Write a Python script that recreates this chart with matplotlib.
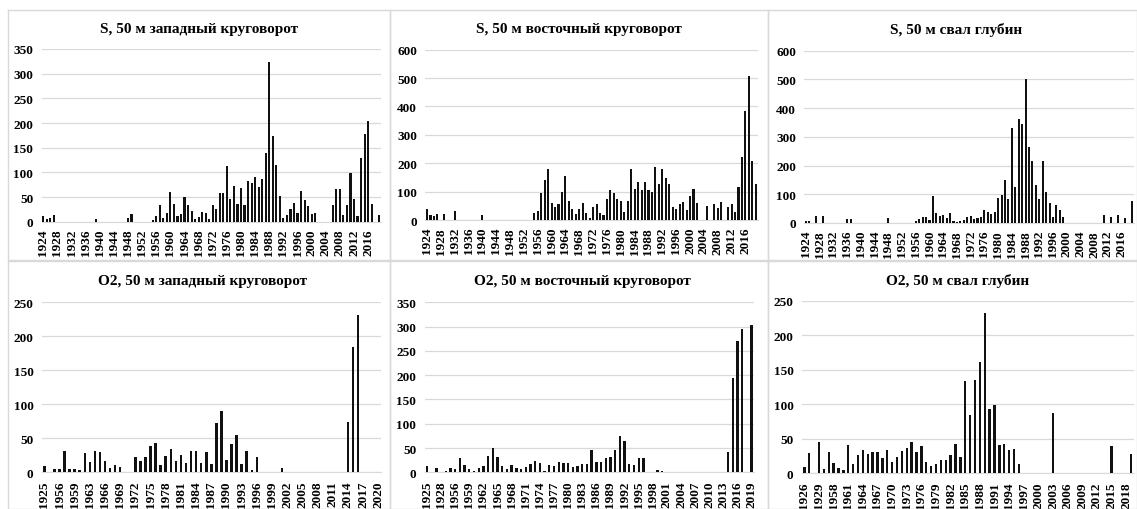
import numpy as np
import matplotlib
matplotlib.use("Agg")
import matplotlib.pyplot as plt
from matplotlib.lines import Line2D

plt.rcParams["font.family"] = ["Liberation Serif", "DejaVu Serif"]
plt.rcParams["font.weight"] = "bold"

# --- top row: S, 50 m, every year 1924..2019 ---
s_years = list(range(1924, 2020))

s_west = [11, 5, 8, 14, 0, 0, 0, 0, 0, 0,
          0, 0, 0, 0, 0, 6, 0, 0, 0, 0,
          0, 0, 0, 0, 8, 16, 0, 0, 0, 0,
          0, 4, 11, 34, 7, 17, 61, 36, 11, 15,
          50, 34, 22, 5, 9, 20, 17, 6, 34, 26,
          59, 58, 112, 47, 72, 36, 68, 34, 83, 79,
          91, 70, 87, 139, 324, 173, 115, 53, 7, 14,
          25, 37, 18, 63, 43, 31, 15, 17, 0, 0,
          0, 0, 34, 66, 67, 14, 34, 99, 47, 11,
          130, 177, 205, 36, 0, 14]

s_east = [38, 18, 14, 20, 0, 22, 0, 0, 30, 0,
          0, 0, 0, 0, 0, 0, 18, 0, 0, 0,
          0, 0, 0, 0, 0, 0, 0, 0, 0, 0,
          0, 23, 30, 96, 140, 180, 60, 47, 56, 100,
          155, 68, 38, 20, 38, 60, 25, 8, 45, 57,
          25, 18, 73, 107, 95, 73, 67, 27, 67, 180,
          108, 135, 104, 135, 104, 100, 185, 127, 180, 147,
          126, 45, 38, 57, 65, 34, 85, 108, 60, 0,
          0, 49, 0, 57, 42, 65, 0, 47, 55, 27,
          115, 222, 383, 506, 208, 128]

s_slope = [7, 8, 0, 25, 0, 23, 0, 0, 0, 0,
           0, 0, 15, 15, 0, 0, 0, 0, 0, 0,
           0, 0, 0, 0, 17, 0, 0, 0, 0, 0,
           0, 0, 7, 15, 21, 21, 12, 95, 34, 26,
           27, 17, 35, 6, 4, 6, 10, 22, 25, 13,
           17, 20, 47, 40, 30, 37, 86, 98, 148, 84,
           331, 127, 361, 346, 500, 264, 216, 132, 82, 216,
           107, 71, 20, 63, 47, 20, 0, 0, 0, 0,
           0, 0, 0, 0, 0, 0, 0, 28, 0, 20,
           0, 29, 0, 17, 0, 77]

# --- bottom row: O2, 50 m, only years with records ---
o2_west_years = [1925, 1926, 1955, 1956, 1957, 1958, 1959, 1960, 1961] + list(range(1963, 2021))
o2_west = [10, 0, 5, 5, 32, 5, 5, 3, 28,
           15, 31, 30, 17, 7, 11, 8, 0, 0,
           22, 17, 22, 38, 43, 11, 24, 35, 16, 26,
           14, 31, 31, 13, 30, 12, 72, 90, 18, 41,
           55, 12, 31, 3, 22,
           0, 0, 0, 0, 7,
           0, 0, 0, 0, 0, 0, 0, 0, 0, 0, 0, 0,
           74, 185, 231, 0, 0, 0, 0]

o2_east_years = [1925, 1926, 1927, 1928, 1929, 1955] + list(range(1956, 2020))
o2_east = [12, 0, 8, 0, 3, 8,
           6, 30, 15, 6, 3, 8, 13, 34, 51, 32,
           12, 7, 15, 8, 7, 10, 18, 23, 20, 3,
           15, 13, 21, 20, 20, 11, 14, 18, 18, 46,
           21, 21, 29, 31, 45, 75, 65, 18, 15, 30,
           29, 0, 0, 4, 2, 0, 0, 0, 0, 0,
           0, 0, 0, 0, 0, 0, 0, 0, 42, 195,
           270, 296, 0, 303]

o2_slope_years = [1926, 1927, 1928, 1929, 1956, 1957] + list(range(1958, 2020))
o2_slope = [9, 30, 0, 46, 6, 31,
            15, 7, 5, 41, 14, 26, 34, 28, 31, 31,
            22, 34, 16, 23, 32, 36, 46, 31, 39, 17,
            11, 13, 20, 19, 26, 42, 23, 134, 84, 136,
            161, 232, 93, 99, 41, 43, 34, 35, 13, 0,
            0, 0, 0, 0, 0, 88, 0, 0, 0, 0,
            0, 0, 0, 0, 0, 0, 0, 39, 0, 0,
            0, 28]

titles = ["S, 50 м западный круговорот", "S, 50 м восточный круговорот", "S, 50 м свал глубин",
          "O2, 50 м западный круговорот", "O2, 50 м восточный круговорот", "O2, 50 м свал глубин"]

W, H = 1137, 510
fig = plt.figure(figsize=(W / 100, H / 100), dpi=100)
fig.patch.set_facecolor("white")


def add_px_axes(x0, x1, y_top, y_bot):
    return fig.add_axes([x0 / W, 1 - y_bot / H, (x1 - x0) / W, (y_bot - y_top) / H])


def draw_panel(ax, labels, values, ymax, step, every, bar_w, xpad):
    x = np.arange(len(values))
    ax.bar(x, values, width=bar_w, color="#111111", zorder=3)
    ax.set_xlim(-0.5, len(values) - 0.5)
    ax.set_ylim(0, ymax)
    ax.set_yticks(np.arange(0, ymax + 1, step))
    ax.set_xticks(x[::every])
    ax.set_xticklabels([str(v) for v in labels[::every]], rotation=90)
    ax.grid(axis="y", color="#d9d9d9", lw=0.9, zorder=0)
    ax.set_axisbelow(True)
    for side in ["top", "right", "left"]:
        ax.spines[side].set_visible(False)
    ax.spines["bottom"].set_color("#d9d9d9")
    ax.patch.set_alpha(0)
    ax.tick_params(axis="both", length=0, labelsize=9.5)
    ax.tick_params(axis="y", pad=6)
    ax.tick_params(axis="x", pad=xpad)


# panel frames
for y0, y1 in [(11, 261), (262, 510)]:
    for x0, x1 in [(8, 390), (390, 768), (768, 1136.5)]:
        xs = [x0 / W, x1 / W, x1 / W, x0 / W, x0 / W]
        ys = [1 - y0 / H, 1 - y0 / H, 1 - y1 / H, 1 - y1 / H, 1 - y0 / H]
        fig.add_artist(Line2D(xs, ys, color="#d9d9d9", lw=1.0, transform=fig.transFigure))

ax = add_px_axes(41.5, 380.5, 50, 222.7)
draw_panel(ax, s_years, s_west, 350, 50, 4, 0.6, 5)
ax = add_px_axes(425.3, 757.5, 50.7, 221)
draw_panel(ax, s_years, s_east, 600, 100, 4, 0.6, 5)
ax = add_px_axes(804.3, 1133.6, 51.7, 224)
draw_panel(ax, s_years, s_slope, 600, 100, 4, 0.6, 5)

ax = add_px_axes(41.8, 380.8, 303.3, 473.3)
draw_panel(ax, o2_west_years, o2_west, 250, 50, 3, 0.5, 6)
ax = add_px_axes(424.6, 754, 303.3, 473.3)
draw_panel(ax, o2_east_years, o2_east, 350, 50, 3, 0.5, 6)
ax = add_px_axes(801.9, 1133.5, 302, 474.3)
draw_panel(ax, o2_slope_years, o2_slope, 250, 50, 3, 0.5, 6)

title_pos = [(199, 30), (579, 29), (956, 30), (202, 282), (582, 281), (958, 281)]
for (tx, ty), t in zip(title_pos, titles):
    fig.text(tx / W, 1 - ty / H, t, ha="center", va="center", fontsize=11, fontweight="bold")

fig.savefig("out.png", dpi=100, facecolor="white")
